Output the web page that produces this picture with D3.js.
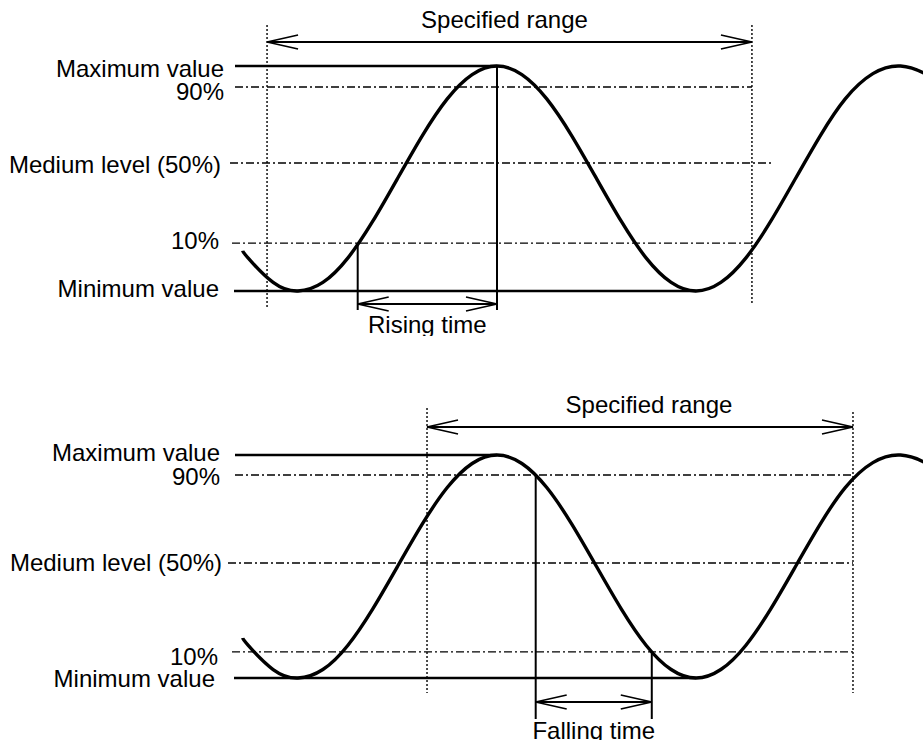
<!DOCTYPE html>
<html>
<head>
<meta charset="utf-8">
<script src="https://cdn.jsdelivr.net/npm/d3@7"></script>
<style>
  html, body { margin: 0; padding: 0; background: #fff; }
  svg { display: block; }
  text { font-family: "Liberation Sans", Arial, sans-serif; font-size: 24px; fill: #000; }
</style>
</head>
<body>
<svg id="chart" width="923" height="740"></svg>
<script>
// ---------------- DATA ----------------
// waveform: phase (degrees, 0 = first minimum) and level (% of min..max span)
const wavePhase = [-50, -45, -22.5, 0, 22.5, 45, 67.5, 90, 112.5, 135, 157.5, 180,
                   202.5, 225, 247.5, 270, 292.5, 315, 337.5, 360,
                   382.5, 405, 427.5, 450, 472.5, 495, 520, 545, 567, 580];
const waveLevel = [17.9, 14.6, 3.8, 0, 3.8, 14.6, 30.9, 50, 69.1, 85.4, 96.2, 100,
                   96.2, 85.4, 69.1, 50, 30.9, 14.6, 3.8, 0,
                   3.8, 14.6, 30.9, 50, 69.1, 85.4, 96.6, 100, 96.6, 92];

const levelLabels = ["Maximum value", "90%", "Medium level (50%)", "10%", "Minimum value"];

// upper diagram (rising time)
const topLevels     = [100, 90.7, 56.9, 21.3, 0];
const topLevelEnds  = [180, 410.6, 430.5, 415, 360];
const topRange      = [-28, 410.6];
const topTiming     = [54, 180];
const topTimingAt   = [21.3, 100];
const topTimingText = "Rising time";

// lower diagram (falling time)
const bottomLevels     = [100, 91, 51.6, 11.7, 0];
const bottomLevelEnds  = [180, 502, 502, 502, 360];
const bottomRange      = [116.7, 502];
const bottomTiming     = [215, 320];
const bottomTimingAt   = [91, 11.7];
const bottomTimingText = "Falling time";

const rangeText = "Specified range";

// ---------------- LAYOUT ----------------
const levelStyle = ["solid", "dashdot", "dashdot", "dashdot", "solid"];
const panels = [
  { levels: topLevels, ends: topLevelEnds, range: topRange, timing: topTiming, timingAt: topTimingAt,
    timingText: topTimingText, yRange: [291, 66], clipTop: 0, clipBottom: 336,
    lineStart: [235, 235, 230, 232, 234], labelRight: [224, 224, 221, 219, 219], labelDy: [11, 13, 10, 6, 6],
    rangeY: 42, rangeTextY: 28, rangeTextDx: -5, dotTop: [25, 25], dotBottom: [309, 305],
    timingY: 304, timingBottom: 310, timingTextY: 333 },
  { levels: bottomLevels, ends: bottomLevelEnds, range: bottomRange, timing: bottomTiming, timingAt: bottomTimingAt,
    timingText: bottomTimingText, yRange: [678, 455], clipTop: 340, clipBottom: 740,
    lineStart: [235, 235, 228, 232, 234], labelRight: [220, 220, 222, 218, 215], labelDy: [6, 10, 8, 13, 9],
    rangeY: 427, rangeTextY: 413, rangeTextDx: 9, dotTop: [408, 412], dotBottom: [693, 693],
    timingY: 702, timingBottom: 719, timingTextY: 739 }
];

const svg = d3.select("#chart");
const x = d3.scaleLinear().domain([0, 360]).range([298, 696]);

function arrowHead(g, tipX, y, dir) {
  const len = 31, half = 7;
  g.append("path")
    .attr("d", `M${tipX - dir * len},${y - half} L${tipX},${y} L${tipX - dir * len},${y + half}`)
    .attr("fill", "none").attr("stroke", "#000").attr("stroke-width", 1.7);
}

panels.forEach((p, pi) => {
  const y = d3.scaleLinear().domain([0, 100]).range(p.yRange);
  const clipId = "clip" + pi;
  svg.append("clipPath").attr("id", clipId).append("rect")
    .attr("x", 0).attr("y", p.clipTop).attr("width", 923)
    .attr("height", p.clipBottom - p.clipTop);
  const g = svg.append("g").attr("clip-path", `url(#${clipId})`);

  // level lines and labels
  levelLabels.forEach((lab, i) => {
    const yy = y(p.levels[i]);
    const ln = g.append("line")
      .attr("x1", p.lineStart[i]).attr("x2", x(p.ends[i]))
      .attr("y1", yy).attr("y2", yy)
      .attr("stroke", "#000");
    if (levelStyle[i] === "solid") ln.attr("stroke-width", 2.3);
    else ln.attr("stroke-width", 1.4).attr("stroke-dasharray", "8,3,2,3");
    g.append("text")
      .attr("x", p.labelRight[i]).attr("y", yy + p.labelDy[i])
      .attr("text-anchor", "end").text(lab);
  });

  // dotted range boundaries
  p.range.forEach((r, i) => {
    g.append("line")
      .attr("x1", x(r)).attr("x2", x(r))
      .attr("y1", p.dotTop[i]).attr("y2", p.dotBottom[i])
      .attr("stroke", "#000").attr("stroke-width", 1.4).attr("stroke-dasharray", "2,2");
  });

  // specified range arrow
  g.append("line")
    .attr("x1", x(p.range[0])).attr("x2", x(p.range[1]))
    .attr("y1", p.rangeY).attr("y2", p.rangeY)
    .attr("stroke", "#000").attr("stroke-width", 1.9);
  arrowHead(g, x(p.range[0]), p.rangeY, -1);
  arrowHead(g, x(p.range[1]), p.rangeY, 1);
  g.append("text")
    .attr("x", (x(p.range[0]) + x(p.range[1])) / 2 + p.rangeTextDx)
    .attr("y", p.rangeTextY).attr("text-anchor", "middle").text(rangeText);

  // timing verticals and arrow
  p.timing.forEach((t, i) => {
    g.append("line")
      .attr("x1", x(t)).attr("x2", x(t))
      .attr("y1", y(p.timingAt[i])).attr("y2", p.timingBottom)
      .attr("stroke", "#000").attr("stroke-width", 2);
  });
  g.append("line")
    .attr("x1", x(p.timing[0])).attr("x2", x(p.timing[1]))
    .attr("y1", p.timingY).attr("y2", p.timingY)
    .attr("stroke", "#000").attr("stroke-width", 1.9);
  arrowHead(g, x(p.timing[0]), p.timingY, -1);
  arrowHead(g, x(p.timing[1]), p.timingY, 1);
  g.append("text")
    .attr("x", (x(p.timing[0]) + x(p.timing[1])) / 2)
    .attr("y", p.timingTextY).attr("text-anchor", "middle").text(p.timingText);

  // waveform
  const line = d3.line()
    .x((d, i) => x(wavePhase[i]))
    .y(d => y(d))
    .curve(d3.curveNatural);
  g.append("path")
    .attr("d", line(waveLevel))
    .attr("fill", "none").attr("stroke", "#000").attr("stroke-width", 3.4);
});
</script>
</body>
</html>
